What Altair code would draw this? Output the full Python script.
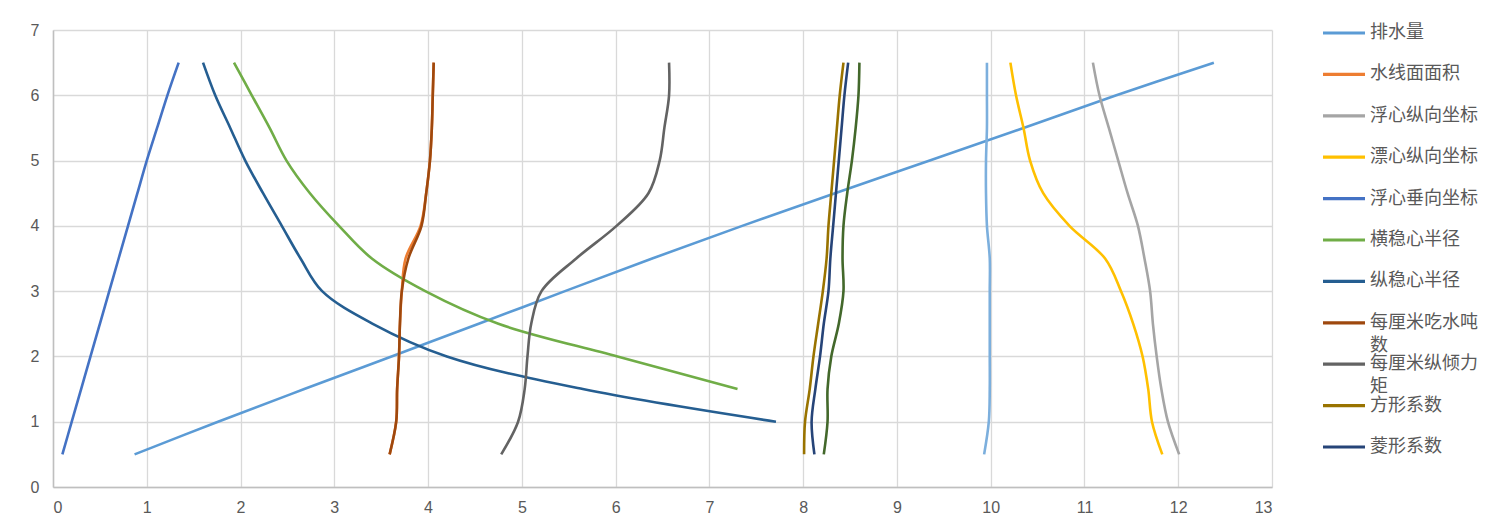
import altair as alt
import pandas as pd

drafts = [0.5, 1.0, 1.5, 2.0, 2.5, 3.0, 3.5, 4.0, 4.5, 5.0, 5.5, 6.0, 6.5]

series_names = ["排水量", "水线面面积", "浮心纵向坐标", "漂心纵向坐标", "浮心垂向坐标",
                "横稳心半径", "纵稳心半径", "每厘米吃水吨数", "每厘米纵倾力矩",
                "方形系数", "菱形系数", "水线面系数", "中横剖面系数"]
series_colors = ["#5B9BD5", "#ED7D31", "#A5A5A5", "#FFC000", "#4472C4",
                 "#70AD47", "#255E91", "#9E480E", "#636363",
                 "#997300", "#264478", "#43682B", "#7CAFDD"]
# legend (as shown in the original: first 11 series, long names wrapped)
legend_names = series_names[:11]
legend_labels = ["排水量", "水线面面积", "浮心纵向坐标", "漂心纵向坐标", "浮心垂向坐标",
                 "横稳心半径", "纵稳心半径", "每厘米吃水吨\n数", "每厘米纵倾力\n矩",
                 "方形系数", "菱形系数"]

displacement = [0.87, 1.76, 2.68, 3.61, 4.54, 5.46, 6.39, 7.35, 8.34, 9.35, 10.35, 11.34, 12.38]
waterplane_area = [3.59, 3.66, 3.67, 3.69, 3.70, 3.72, 3.76, 3.92, 3.98, 4.02, 4.04, 4.05, 4.06]
lcb = [12.01, 11.89, 11.82, 11.77, 11.73, 11.70, 11.64, 11.57, 11.46, 11.36, 11.26, 11.16, 11.09]
lcf = [11.83, 11.72, 11.68, 11.62, 11.52, 11.39, 11.22, 10.84, 10.56, 10.42, 10.35, 10.27, 10.21]
vcb = [0.10, 0.20, 0.30, 0.40, 0.50, 0.60, 0.70, 0.80, 0.90, 1.00, 1.11, 1.22, 1.34]
bm_drafts = [1.5, 2.0, 2.5, 3.0, 3.5, 4.0, 4.5, 5.0, 5.5, 6.0, 6.5]
bm = [7.30, 6.02, 4.75, 3.97, 3.40, 3.05, 2.74, 2.49, 2.31, 2.12, 1.93]
bml_drafts = [1.0, 1.5, 2.0, 2.5, 3.0, 3.5, 4.0, 4.5, 5.0, 5.5, 6.0, 6.5]
bml = [7.71, 5.65, 4.20, 3.41, 2.87, 2.64, 2.44, 2.24, 2.05, 1.89, 1.73, 1.60]
tpc = [3.59, 3.66, 3.67, 3.69, 3.70, 3.72, 3.79, 3.93, 3.98, 4.02, 4.04, 4.05, 4.06]
mtc = [4.78, 4.96, 5.03, 5.06, 5.10, 5.21, 5.58, 6.01, 6.35, 6.47, 6.52, 6.57, 6.57]
cb = [8.01, 8.02, 8.07, 8.11, 8.16, 8.21, 8.25, 8.27, 8.30, 8.33, 8.36, 8.39, 8.43]
cp = [8.12, 8.09, 8.13, 8.18, 8.22, 8.27, 8.29, 8.32, 8.35, 8.38, 8.41, 8.44, 8.48]
cw = [8.22, 8.26, 8.26, 8.30, 8.38, 8.43, 8.42, 8.43, 8.47, 8.52, 8.56, 8.59, 8.60]
cm = [9.93, 9.98, 9.99, 9.99, 9.99, 9.99, 9.99, 9.96, 9.95, 9.95, 9.96, 9.96, 9.96]

series_values = [
    (drafts, displacement), (drafts, waterplane_area), (drafts, lcb), (drafts, lcf),
    (drafts, vcb), (bm_drafts, bm), (bml_drafts, bml), (drafts, tpc), (drafts, mtc),
    (drafts, cb), (drafts, cp), (drafts, cw), (drafts, cm),
]

rows = []
for i, (name, (ys, xs)) in enumerate(zip(series_names, series_values)):
    for j, (yv, xv) in enumerate(zip(ys, xs)):
        rows.append({"series": name, "s": i, "x": xv, "y": yv, "k": j})
df = pd.DataFrame(rows)
legend_df = pd.DataFrame({"series": legend_names, "label": legend_labels})

color_scale = alt.Scale(domain=series_names, range=series_colors)

lines = alt.Chart(df).mark_line(interpolate="catmull-rom", strokeWidth=2.6).encode(
    x=alt.X("x:Q", scale=alt.Scale(domain=[0, 13], nice=False),
            axis=alt.Axis(values=list(range(0, 14)), title=None, grid=True,
                          ticks=False, labelPadding=12)),
    y=alt.Y("y:Q", scale=alt.Scale(domain=[0, 7], nice=False),
            axis=alt.Axis(values=list(range(0, 8)), title=None, grid=True,
                          ticks=False, labelPadding=14)),
    color=alt.Color("series:N", scale=color_scale, legend=None),
    order=alt.Order("k:Q"),
    detail="series:N",
)

leg_y = alt.Y("series:N",
              scale=alt.Scale(type="point", domain=legend_names, range=[3, 417], padding=0),
              axis=None)

legend_rules = alt.Chart(legend_df).mark_rule(strokeWidth=3.2).encode(
    x=alt.value(1270), x2=alt.value(1312), y=leg_y,
    color=alt.Color("series:N", scale=color_scale, legend=None),
)
legend_text = alt.Chart(legend_df).mark_text(
    align="left", baseline="middle", fontSize=18, font="Noto Sans CJK SC",
    color="#595959", lineBreak="\n", lineHeight=23,
).encode(x=alt.value(1317), y=leg_y, text="label:N")

legend = alt.layer(legend_rules, legend_text)

chart = alt.layer(lines, legend).resolve_scale(y="independent").properties(
    width=1219, height=457,
    autosize=alt.AutoSizeParams(type="none"),
    padding={"left": 45, "top": 22, "right": 212, "bottom": 31},
).configure_view(stroke=None).configure_axis(
    gridColor="#D9D9D9", gridWidth=1.3, domainColor="#BFBFBF", domainWidth=1.5,
    labelColor="#595959", labelFontSize=16, labelFont="Liberation Sans",
)

chart.save("out.html", embed_options={"renderer": "svg", "actions": False})
